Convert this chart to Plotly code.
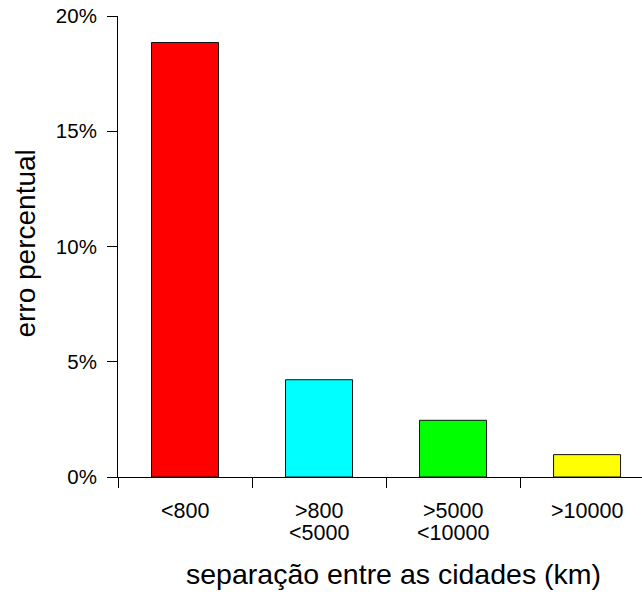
import plotly.graph_objects as go

# ---- data ----
labels = [["<800"], [">800", "<5000"], [">5000", "<10000"], [">10000"]]
values = [18.85, 4.22, 2.46, 0.97]
colors = ["#FF0000", "#00FFFF", "#00FF00", "#FFFF00"]
y_ticks = [0, 5, 10, 15, 20]
y_ticktext = ["0%", "5%", "10%", "15%", "20%"]
x_title = "separação entre as cidades (km)"
y_title = "erro percentual"

FONT = "Liberation Sans, Arial, sans-serif"
pos = list(range(len(values)))
sep = [p - 0.5 for p in pos]

fig = go.Figure()
fig.add_trace(go.Bar(
    x=pos, y=values, width=0.5,
    marker=dict(color=colors, line=dict(color="#111111", width=1)),
    hoverinfo="skip",
))

annotations = []
for p, lines in zip(pos, labels):
    for i, line in enumerate(lines):
        annotations.append(dict(
            x=p, xref="x", y=0, yref="paper", text=line, showarrow=False,
            xanchor="center", yanchor="middle", yshift=-33.5 - 22 * i,
            font=dict(family=FONT, size=21.5, color="black"),
        ))
annotations.append(dict(
    x=0.5267, xref="paper", y=0, yref="paper", text=x_title, showarrow=False,
    xanchor="center", yanchor="middle", yshift=-96.6,
    font=dict(family=FONT, size=28.5, color="black"),
))
annotations.append(dict(
    x=-0.1784, xref="paper", y=0.5054, yref="paper", text=y_title, showarrow=False,
    xanchor="center", yanchor="middle", textangle=-90,
    font=dict(family=FONT, size=28, color="black"),
))

fig.update_layout(
    width=642, height=592,
    margin=dict(l=118, r=0, t=16, b=115, pad=0),
    plot_bgcolor="white", paper_bgcolor="white",
    showlegend=False,
    font=dict(family=FONT, size=20, color="black"),
    xaxis=dict(
        range=[-0.5, 3.41], showgrid=False, zeroline=False,
        showline=True, linecolor="black", linewidth=1,
        tickmode="array", tickvals=sep, ticktext=["" for _ in sep],
        ticks="outside", ticklen=10, tickwidth=1, tickcolor="black",
        fixedrange=True,
    ),
    yaxis=dict(
        range=[0, 20], showgrid=False, zeroline=False,
        showline=True, linecolor="black", linewidth=1,
        tickmode="array", tickvals=y_ticks, ticktext=y_ticktext,
        ticks="outside", ticklen=10, tickwidth=1, tickcolor="black",
        tickfont=dict(family=FONT, size=20.5, color="black"),
        ticklabelstandoff=6,
        fixedrange=True,
    ),
    annotations=annotations,
)

fig.write_html(
    "out.html",
    config={"displayModeBar": False},
    post_script="document.body.style.margin='0';document.body.style.overflow='hidden';",
)
